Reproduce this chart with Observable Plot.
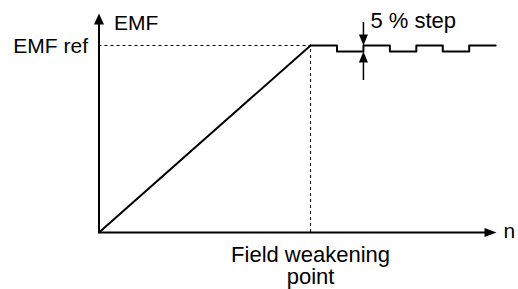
<!DOCTYPE html>
<html>
<head>
<meta charset="utf-8">
<script src="https://cdn.jsdelivr.net/npm/d3@7"></script>
<script src="https://cdn.jsdelivr.net/npm/@observablehq/plot@0.6"></script>
<style>
  html, body { margin: 0; padding: 0; background: #fff; }
</style>
</head>
<body>
<div id="chart"></div>
<script>
// ---- data (speed n in units of field-weakening speed, EMF in units of EMF ref) ----
const rampSpeed = [0, 1];
const rampEmf = [0, 1];
const stepSpeed = [1, 1.125, 1.25, 1.375, 1.5, 1.625, 1.75, 1.875];
const stepEmf   = [1, 0.968, 1, 0.968, 1, 0.968, 1, 1];
const fieldWeakening = 1;
const emfRef = 1;
const nMax = 1.879;
const emfMax = 1.171;
const stepMarkerSpeed = 1.25;
const stepArrowDown = [1.123, 1.0];   // from, to (tip)
const stepArrowUp = [0.813, 0.968];   // from, to (tip)
const labelEmf = "EMF";
const labelEmfRef = "EMF ref";
const labelN = "n";
const labelFW = "Field weakening\npoint";
const labelStep = "5 % step";

// custom filled arrowheads (tip at origin)
function head(dirx, diry, len, hw) {
  return {
    draw(ctx) {
      const bx = -dirx * len, by = -diry * len;
      const px = -diry * hw, py = dirx * hw;
      ctx.moveTo(0, 0);
      ctx.lineTo(bx + px, by + py);
      ctx.lineTo(bx - px, by - py);
      ctx.closePath();
    }
  };
}
const headUpAxis = head(0, -1, 11, 5);
const headRightAxis = head(1, 0, 12, 4.5);
const headDownSmall = head(0, 1, 11, 4.5);
const headUpSmall = head(0, -1, 11, 4.5);

const rampData = rampSpeed.map((n, i) => ({n, e: rampEmf[i]}));
const stepData = stepSpeed.map((n, i) => ({n, e: stepEmf[i]}));

const font = "'Liberation Sans', Arial, Helvetica, sans-serif";

const chart = Plot.plot({
  width: 518,
  height: 289,
  marginLeft: 98.5,
  marginRight: 22,
  marginTop: 13,
  marginBottom: 57,
  x: {domain: [0, nMax], axis: null},
  y: {domain: [0, emfMax], axis: null},
  style: {fontFamily: font, fontSize: "21px", background: "#fff", color: "#000", overflow: "visible"},
  marks: [
    // dashed reference lines
    Plot.ruleY([emfRef], {x1: 0, x2: fieldWeakening, stroke: "#000", strokeWidth: 1, strokeDasharray: "3,3"}),
    Plot.ruleX([fieldWeakening], {y1: 0, y2: emfRef, stroke: "#000", strokeWidth: 1, strokeDasharray: "3,3"}),
    // axes
    Plot.ruleX([0], {y1: 0, y2: emfMax - 0.03, stroke: "#000", strokeWidth: 2}),
    Plot.ruleY([0], {x1: 0, x2: nMax - 0.03, stroke: "#000", strokeWidth: 2}),
    Plot.dot([{n: 0, e: emfMax}], {x: "n", y: "e", symbol: headUpAxis, fill: "#000", stroke: "none"}),
    Plot.dot([{n: nMax, e: 0}], {x: "n", y: "e", symbol: headRightAxis, fill: "#000", stroke: "none"}),
    // EMF curve
    Plot.line(rampData, {x: "n", y: "e", stroke: "#000", strokeWidth: 2}),
    Plot.line(stepData, {x: "n", y: "e", stroke: "#000", strokeWidth: 2, curve: "step-after"}),
    // 5 % step arrows
    Plot.ruleX([stepMarkerSpeed], {y1: stepArrowDown[0], y2: stepArrowDown[1] + 0.03, stroke: "#000", strokeWidth: 1.5}),
    Plot.ruleX([stepMarkerSpeed], {y1: stepArrowUp[0], y2: stepArrowUp[1] - 0.03, stroke: "#000", strokeWidth: 1.5}),
    Plot.dot([{n: stepMarkerSpeed, e: stepArrowDown[1]}], {x: "n", y: "e", symbol: headDownSmall, fill: "#000", stroke: "none"}),
    Plot.dot([{n: stepMarkerSpeed, e: stepArrowUp[1]}], {x: "n", y: "e", symbol: headUpSmall, fill: "#000", stroke: "none"}),
    // labels
    Plot.text([labelEmf], {x: 0, y: emfMax, text: d => d, textAnchor: "start", dx: 15, dy: 10, fontSize: 21, fill: "#000"}),
    Plot.text([labelEmfRef], {x: 0, y: emfRef, text: d => d, textAnchor: "end", dx: -11, dy: 1, fontSize: 21, fill: "#000"}),
    Plot.text([labelN], {x: nMax, y: 0, text: d => d, textAnchor: "start", dx: 7, dy: -1, fontSize: 21, fill: "#000"}),
    Plot.text([labelFW], {x: fieldWeakening, y: 0, text: d => d, textAnchor: "middle", lineAnchor: "top", dy: 14, fontSize: 22, fill: "#000"}),
    Plot.text([labelStep], {x: stepMarkerSpeed, y: stepArrowDown[0], text: d => d, textAnchor: "start", dx: 7, dy: -2, fontSize: 22, fill: "#000"})
  ]
});
document.getElementById("chart").appendChild(chart);
</script>
</body>
</html>
